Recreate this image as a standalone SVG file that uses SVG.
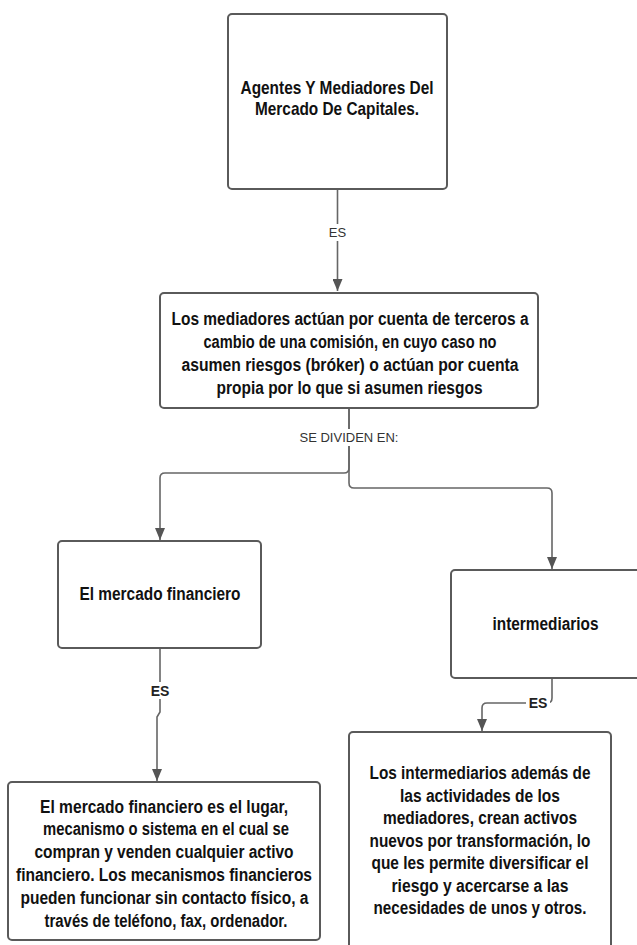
<svg xmlns="http://www.w3.org/2000/svg" width="637" height="945" viewBox="0 0 637 945">
<defs>
<marker id="ah" markerUnits="userSpaceOnUse" markerWidth="12" markerHeight="10" refX="12" refY="5" orient="auto" viewBox="0 0 12 10">
<path d="M0,0 L12,5 L0,10 Z" fill="#555555"/>
</marker>
<style>
.box{fill:#ffffff;stroke:#5a5a5a;stroke-width:2}
.t{font-family:"Liberation Sans",Arial,sans-serif;font-weight:bold;font-size:17.5px;fill:#111;text-anchor:middle}
.t1{font-size:18.5px}
.c{fill:none;stroke:#666;stroke-width:1.6;}
.lb{font-family:"Liberation Sans",Arial,sans-serif;font-size:13px;fill:#333;text-anchor:middle}
.lbb{font-weight:bold;font-size:14px;fill:#222}
.bg{fill:#ffffff}
</style>
</defs>
<rect width="637" height="945" fill="#ffffff"/>
<g id="connectors">
<path class="c" d="M337.5,190 V291" marker-end="url(#ah)"/>
<path class="c" d="M349,409 V468 Q349,473 344,473 H165 Q160,473 160,478 V540" marker-end="url(#ah)"/>
<path class="c" d="M349,409 V483 Q349,488 354,488 H547 Q552,488 552,493 V569" marker-end="url(#ah)"/>
<path class="c" d="M160,649 V712 L157,717 V781" marker-end="url(#ah)"/>
<path class="c" d="M552,678 V698 Q552,703 547,703 H487 Q482,703 482,708 V731" marker-end="url(#ah)"/>
<rect class="bg" x="326" y="224" width="24" height="17"/>
<text class="lb" x="337.5" y="237">ES</text>
<rect class="bg" x="297" y="429" width="104" height="17"/>
<text class="lb" x="349" y="442">SE DIVIDEN EN:</text>
<rect class="bg" x="147" y="682" width="26" height="17"/>
<text class="lb lbb" x="160" y="696">ES</text>
<rect class="bg" x="526" y="695" width="24" height="16"/>
<text class="lb lbb" x="538" y="708">ES</text>
</g>
<g id="node-agentes">
<rect class="box" x="228" y="14" width="219" height="175" rx="4"/>
<text class="t t1" x="337" y="94" textLength="193" lengthAdjust="spacingAndGlyphs">Agentes Y Mediadores Del</text>
<text class="t t1" x="337" y="115" textLength="164" lengthAdjust="spacingAndGlyphs">Mercado De Capitales.</text>
</g>
<g id="node-mediadores">
<rect class="box" x="160" y="293" width="378" height="115" rx="4"/>
<text class="t" x="350" y="325" textLength="357" lengthAdjust="spacingAndGlyphs">Los mediadores actúan por cuenta de terceros a</text>
<text class="t" x="350" y="348" textLength="293" lengthAdjust="spacingAndGlyphs">cambio de una comisión, en cuyo caso no</text>
<text class="t" x="350" y="371" textLength="337" lengthAdjust="spacingAndGlyphs">asumen riesgos (bróker) o actúan por cuenta</text>
<text class="t" x="349.5" y="394" textLength="266" lengthAdjust="spacingAndGlyphs">propia por lo que si asumen riesgos</text>
</g>
<g id="node-mercado">
<rect class="box" x="58" y="541" width="203" height="107" rx="4"/>
<text class="t" x="160" y="600" textLength="161" lengthAdjust="spacingAndGlyphs">El mercado financiero</text>
</g>
<g id="node-intermediarios">
<rect class="box" x="451" y="570" width="200" height="108" rx="4"/>
<text class="t" x="545.5" y="630" textLength="106" lengthAdjust="spacingAndGlyphs">intermediarios</text>
</g>
<g id="node-mercado-def">
<rect class="box" x="8" y="782" width="312" height="158" rx="4"/>
<text class="t" x="164" y="813" textLength="248" lengthAdjust="spacingAndGlyphs">El mercado financiero es el lugar,</text>
<text class="t" x="166" y="835" textLength="246" lengthAdjust="spacingAndGlyphs">mecanismo o sistema en el cual se</text>
<text class="t" x="164" y="858" textLength="259" lengthAdjust="spacingAndGlyphs">compran y venden cualquier activo</text>
<text class="t" x="164" y="881" textLength="296" lengthAdjust="spacingAndGlyphs">financiero. Los mecanismos financieros</text>
<text class="t" x="164.5" y="904" textLength="288" lengthAdjust="spacingAndGlyphs">pueden funcionar sin contacto físico, a</text>
<text class="t" x="166" y="927" textLength="243" lengthAdjust="spacingAndGlyphs">través de teléfono, fax, ordenador.</text>
</g>
<g id="node-intermediarios-def">
<rect class="box" x="349" y="732" width="262" height="230" rx="4"/>
<text class="t" x="480" y="779" textLength="221" lengthAdjust="spacingAndGlyphs">Los intermediarios además de</text>
<text class="t" x="480" y="802" textLength="160" lengthAdjust="spacingAndGlyphs">las actividades de los</text>
<text class="t" x="480" y="824" textLength="194" lengthAdjust="spacingAndGlyphs">mediadores, crean activos</text>
<text class="t" x="480" y="847" textLength="221" lengthAdjust="spacingAndGlyphs">nuevos por transformación, lo</text>
<text class="t" x="480" y="869" textLength="217" lengthAdjust="spacingAndGlyphs">que les permite diversificar el</text>
<text class="t" x="480" y="892" textLength="177" lengthAdjust="spacingAndGlyphs">riesgo y acercarse a las</text>
<text class="t" x="480" y="914" textLength="213" lengthAdjust="spacingAndGlyphs">necesidades de unos y otros.</text>
</g>
</svg>
